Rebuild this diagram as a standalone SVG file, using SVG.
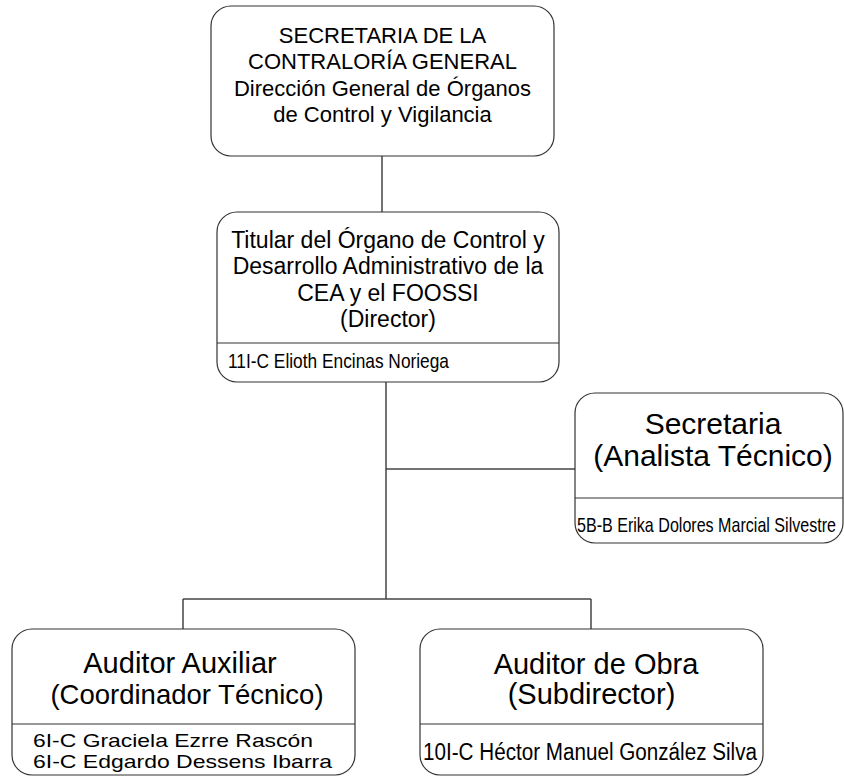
<svg xmlns="http://www.w3.org/2000/svg" width="844" height="776" viewBox="0 0 844 776">
<style>
.box{fill:#fff;stroke:#333;stroke-width:1.2}
.div{stroke:#333;stroke-width:1.2}
.con{stroke:#444;stroke-width:1.5;fill:none}
text{font-family:"Liberation Sans",Arial,sans-serif;fill:#000}
.t22{font-size:22px;text-anchor:middle}
.t23{font-size:23px;text-anchor:middle}
.t29{font-size:29px;text-anchor:middle}
.n{font-size:19px}
</style>
<rect width="844" height="776" fill="#fff"/>
<g id="connectors">
<line class="con" x1="382" y1="156" x2="382" y2="212"/>
<line class="con" x1="386" y1="382" x2="386" y2="599"/>
<line class="con" x1="386" y1="469" x2="575" y2="469"/>
<line class="con" x1="183" y1="599" x2="591" y2="599"/>
<line class="con" x1="183" y1="599" x2="183" y2="629"/>
<line class="con" x1="591" y1="599" x2="591" y2="629"/>
</g>
<g id="secretaria-contraloria">
<rect class="box" x="211" y="6" width="343" height="150" rx="20"/>
<text class="t22" x="382.5" y="43">SECRETARIA DE LA</text>
<text class="t22" x="382.5" y="69">CONTRALORÍA GENERAL</text>
<text class="t22" x="382.5" y="96">Dirección General de Órganos</text>
<text class="t22" x="382.5" y="122">de Control y Vigilancia</text>
</g>
<g id="titular">
<rect class="box" x="217" y="212" width="342" height="170" rx="20"/>
<line class="div" x1="217" y1="343" x2="559" y2="343"/>
<text class="t23" x="388" y="248">Titular del Órgano de Control y</text>
<text class="t23" x="388" y="274">Desarrollo Administrativo de la</text>
<text class="t23" x="388" y="301">CEA y el FOOSSI</text>
<text class="t23" x="388" y="327">(Director)</text>
<text class="n" x="228" y="368" style="font-size:21px" textLength="221" lengthAdjust="spacingAndGlyphs">11I-C Elioth Encinas Noriega</text>
</g>
<g id="secretaria">
<rect class="box" x="575" y="393" width="268" height="150" rx="20"/>
<line class="div" x1="575" y1="498" x2="843" y2="498"/>
<text class="t29" x="713" y="434" style="font-size:30px">Secretaria</text>
<text class="t29" x="713" y="466" style="font-size:30px">(Analista Técnico)</text>
<text class="n" x="577" y="532" style="font-size:21px" textLength="259" lengthAdjust="spacingAndGlyphs">5B-B Erika Dolores Marcial Silvestre</text>
</g>
<g id="auditor-auxiliar">
<rect class="box" x="12" y="629" width="343" height="146" rx="20"/>
<line class="div" x1="12" y1="724" x2="355" y2="724"/>
<text class="t29" x="180" y="673">Auditor Auxiliar</text>
<text class="t29" x="187" y="704" style="font-size:27.5px">(Coordinador Técnico)</text>
<text class="n" x="33" y="747" textLength="280" lengthAdjust="spacingAndGlyphs">6I-C Graciela Ezrre Rascón</text>
<text class="n" x="33" y="768" textLength="299" lengthAdjust="spacingAndGlyphs">6I-C Edgardo Dessens Ibarra</text>
</g>
<g id="auditor-obra">
<rect class="box" x="420" y="629" width="343" height="146" rx="20"/>
<line class="div" x1="420" y1="724" x2="763" y2="724"/>
<text class="t29" x="596" y="674">Auditor de Obra</text>
<text class="t29" x="591.5" y="704">(Subdirector)</text>
<text class="n" x="423" y="760" style="font-size:23px" textLength="334" lengthAdjust="spacingAndGlyphs">10I-C Héctor Manuel González Silva</text>
</g>
</svg>
